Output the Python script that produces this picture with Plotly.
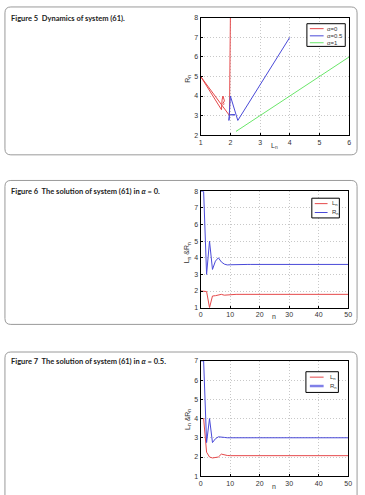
import plotly.graph_objects as go

W, H = 365, 495

# ---------------- data ----------------
n_steps = list(range(51))

# alpha = 0 solution (Figure 6), also the red orbit in Figure 5
L_a0 = [2, 2, 1.97, 1.0, 1.7, 1.72, 1.75, 1.8, 1.75, 1.77, 1.79,
        1.8, 1.8, 1.8, 1.8, 1.8, 1.8, 1.8, 1.8, 1.8, 1.8,
        1.8, 1.8, 1.8, 1.8, 1.8, 1.8, 1.8, 1.8, 1.8, 1.8,
        1.8, 1.8, 1.8, 1.8, 1.8, 1.8, 1.8, 1.8, 1.8, 1.8,
        1.8, 1.8, 1.8, 1.8, 1.8, 1.8, 1.8, 1.8, 1.8, 1.8]
R_a0 = [8, 8, 3.0, 5.0, 3.3, 3.8, 4.0, 3.75, 3.62, 3.57, 3.58,
        3.59, 3.6, 3.6, 3.6, 3.6, 3.6, 3.6, 3.6, 3.6, 3.6,
        3.6, 3.6, 3.6, 3.6, 3.6, 3.6, 3.6, 3.6, 3.6, 3.6,
        3.6, 3.6, 3.6, 3.6, 3.6, 3.6, 3.6, 3.6, 3.6, 3.6,
        3.6, 3.6, 3.6, 3.6, 3.6, 3.6, 3.6, 3.6, 3.6, 3.6]

# alpha = 0.5 solution (Figure 7), also the blue orbit in Figure 5
L_a05 = [4, 4, 2.25, 2.0, 1.95, 1.97, 2.0, 2.15, 2.1, 2.08, 2.07,
         2.07, 2.07, 2.07, 2.07, 2.07, 2.07, 2.07, 2.07, 2.07, 2.07,
         2.07, 2.07, 2.07, 2.07, 2.07, 2.07, 2.07, 2.07, 2.07, 2.07,
         2.07, 2.07, 2.07, 2.07, 2.07, 2.07, 2.07, 2.07, 2.07, 2.07,
         2.07, 2.07, 2.07, 2.07, 2.07, 2.07, 2.07, 2.07, 2.07, 2.07]
R_a05 = [7, 7, 2.75, 4.0, 2.75, 2.95, 3.05, 3.05, 3.02, 3.0, 3.0,
         3.0, 3.0, 3.0, 3.0, 3.0, 3.0, 3.0, 3.0, 3.0, 3.0,
         3.0, 3.0, 3.0, 3.0, 3.0, 3.0, 3.0, 3.0, 3.0, 3.0,
         3.0, 3.0, 3.0, 3.0, 3.0, 3.0, 3.0, 3.0, 3.0, 3.0,
         3.0, 3.0, 3.0, 3.0, 3.0, 3.0, 3.0, 3.0, 3.0, 3.0]

# alpha = 1 orbit (Figure 5, green)
L_a1 = [6, 6, 2.2, 2.3, 2.25, 2.25]
R_a1 = [6, 6, 2.2, 2.3, 2.25, 2.25]

legend5 = ["α=0", "α=0.5", "α=1"]
legend67 = ["L<sub>n</sub>", "R<sub>n</sub>"]
captions = [
    "<b>Figure 5</b>  Dynamics of system (61).",
    "<b>Figure 6</b>  The solution of system (61) in <i>α</i> = 0.",
    "<b>Figure 7</b>  The solution of system (61) in <i>α</i> = 0.5.",
]

RED = "#e5484a"
BLUE = "#4a4ad8"
GREEN = "#6ae66a"


def px(x):
    return x / W


def py(y):
    return 1 - y / H


fig = go.Figure()

# Figure 5 phase plot
fig.add_trace(go.Scatter(x=L_a0, y=R_a0, mode="lines", line=dict(color=RED, width=1),
                         xaxis="x", yaxis="y", showlegend=False))
fig.add_trace(go.Scatter(x=L_a05, y=R_a05, mode="lines", line=dict(color=BLUE, width=1),
                         xaxis="x", yaxis="y", showlegend=False))
fig.add_trace(go.Scatter(x=L_a1, y=R_a1, mode="lines", line=dict(color=GREEN, width=1),
                         xaxis="x", yaxis="y", showlegend=False))
# Figure 6
fig.add_trace(go.Scatter(x=n_steps, y=L_a0, mode="lines", line=dict(color=RED, width=1),
                         xaxis="x2", yaxis="y2", showlegend=False))
fig.add_trace(go.Scatter(x=n_steps, y=R_a0, mode="lines", line=dict(color=BLUE, width=1),
                         xaxis="x2", yaxis="y2", showlegend=False))
# Figure 7
fig.add_trace(go.Scatter(x=n_steps, y=L_a05, mode="lines", line=dict(color=RED, width=1),
                         xaxis="x3", yaxis="y3", showlegend=False))
fig.add_trace(go.Scatter(x=n_steps, y=R_a05, mode="lines", line=dict(color=BLUE, width=1),
                         xaxis="x3", yaxis="y3", showlegend=False))

TICKFONT = dict(family="Liberation Sans, Arial, sans-serif", size=7, color="#333333")


def axis(domain, rng, dtick, anchor):
    return dict(domain=domain, range=rng, dtick=dtick, tick0=0, anchor=anchor,
                showline=True, linecolor="black", linewidth=1, mirror=True,
                ticks="inside", ticklen=2, tickcolor="black", tickwidth=1,
                showgrid=True, gridcolor="#c8c8c8", griddash="1px,2px", gridwidth=1,
                zeroline=False, tickfont=TICKFONT, fixedrange=True)


# plot rectangles in pixels: (x0, x1, ytop, ybottom)
plots = [(202, 353, 14, 133), (202, 352, 190, 308), (202, 352, 362, 479)]

fig.update_layout(
    xaxis=axis([px(plots[0][0]), px(plots[0][1])], [1, 6], 1, "y"),
    yaxis=axis([py(plots[0][3]), py(plots[0][2])], [2, 8], 1, "x"),
    xaxis2=axis([px(plots[1][0]), px(plots[1][1])], [0, 50], 10, "y2"),
    yaxis2=axis([py(plots[1][3]), py(plots[1][2])], [1, 8], 1, "x2"),
    xaxis3=axis([px(plots[2][0]), px(plots[2][1])], [0, 50], 10, "y3"),
    yaxis3=axis([py(plots[2][3]), py(plots[2][2])], [1, 7], 1, "x3"),
)

shapes = []
annotations = []


def rounded_rect(x0, y0, x1, y1, r=6):
    p = (f"M {px(x0 + r)},{py(y0)} L {px(x1 - r)},{py(y0)} "
         f"Q {px(x1)},{py(y0)} {px(x1)},{py(y0 + r)} "
         f"L {px(x1)},{py(y1 - r)} Q {px(x1)},{py(y1)} {px(x1 - r)},{py(y1)} "
         f"L {px(x0 + r)},{py(y1)} Q {px(x0)},{py(y1)} {px(x0)},{py(y1 - r)} "
         f"L {px(x0)},{py(y0 + r)} Q {px(x0)},{py(y0)} {px(x0 + r)},{py(y0)} Z")
    return dict(type="path", path=p, xref="paper", yref="paper",
                line=dict(color="#9a9a9a", width=1), layer="below")


shapes.append(rounded_rect(3, 3, 361, 153))
shapes.append(rounded_rect(3, 179, 361, 325))
shapes.append(rounded_rect(3, 353, 361, 510))

CAPFONT = dict(family="Lato, Open Sans, sans-serif", size=7.5, color="#222222", weight=700)
for cap, yc in zip(captions, [15, 190, 363]):
    annotations.append(dict(text=cap, x=px(7), y=py(yc), xref="paper", yref="paper",
                            xanchor="left", yanchor="middle", showarrow=False, font=CAPFONT))

LABFONT = dict(family="Liberation Sans, Arial, sans-serif", size=7, color="#333333")
# axis labels
annotations.append(dict(text="L<sub>n</sub>", x=px(277), y=py(144), xref="paper", yref="paper",
                        showarrow=False, font=LABFONT, xanchor="center", yanchor="middle"))
annotations.append(dict(text="R<sub>n</sub>", x=px(189), y=py(76), xref="paper", yref="paper",
                        showarrow=False, font=LABFONT, textangle=-90, xanchor="center", yanchor="middle"))
annotations.append(dict(text="n", x=px(277), y=py(317), xref="paper", yref="paper",
                        showarrow=False, font=LABFONT, xanchor="center", yanchor="middle"))
annotations.append(dict(text="L<sub>n</sub> &amp;R<sub>n</sub>", x=px(189), y=py(252), xref="paper",
                        yref="paper", showarrow=False, font=LABFONT, textangle=-90,
                        xanchor="center", yanchor="middle"))
annotations.append(dict(text="n", x=px(277), y=py(489), xref="paper", yref="paper",
                        showarrow=False, font=LABFONT, xanchor="center", yanchor="middle"))
annotations.append(dict(text="L<sub>n</sub> &amp;R<sub>n</sub>", x=px(189), y=py(421), xref="paper",
                        yref="paper", showarrow=False, font=LABFONT, textangle=-90,
                        xanchor="center", yanchor="middle"))

LEGFONT = dict(family="Liberation Sans, Arial, sans-serif", size=6, color="#333333")


def legend_box(x0, y0, x1, y1, entries, colors, rows, lx0, lx1, tx, widths):
    shapes.append(dict(type="rect", xref="paper", yref="paper", x0=px(x0), x1=px(x1),
                       y0=py(y1), y1=py(y0), line=dict(color="black", width=1),
                       fillcolor="white", layer="above"))
    for name, col, yy, w in zip(entries, colors, rows, widths):
        shapes.append(dict(type="line", xref="paper", yref="paper", x0=px(lx0), x1=px(lx1),
                           y0=py(yy), y1=py(yy), line=dict(color=col, width=w), layer="above"))
        annotations.append(dict(text=name, x=px(tx), y=py(yy), xref="paper", yref="paper",
                                xanchor="left", yanchor="middle", showarrow=False, font=LEGFONT))


legend_box(310, 20, 349, 43, legend5, [RED, BLUE, GREEN], [25, 32.3, 39.3], 313, 327, 328, [1, 1, 1])
legend_box(315, 197, 343, 217, legend67, [RED, BLUE], [202.5, 211.5], 318, 331, 333, [1, 1])
legend_box(309, 373, 342, 394, legend67, [RED, "#8080e8"], [378.5, 387.5], 313, 327, 331, [1, 2.5])

fig.update_layout(
    width=W, height=H, margin=dict(l=0, r=0, t=0, b=0),
    paper_bgcolor="white", plot_bgcolor="white",
    shapes=shapes, annotations=annotations, showlegend=False,
)

fig.write_html("out.html", config=dict(displayModeBar=False))
